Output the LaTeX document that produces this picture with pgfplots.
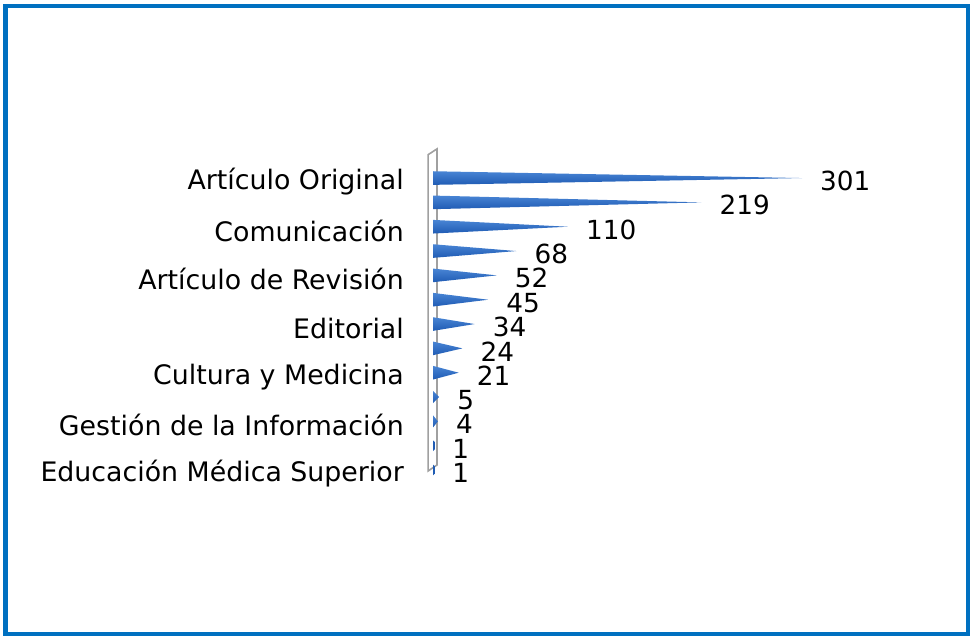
\documentclass[border=0pt]{standalone}
\usepackage{pgfplots}
\pgfplotsset{compat=1.18}
\usepackage{fontspec}
\setmainfont{DejaVu Sans}
\definecolor{frameblue}{RGB}{0,112,192}
\definecolor{conetop}{RGB}{72,132,212}
\definecolor{conebot}{RGB}{32,92,180}
\definecolor{wallgray}{RGB}{160,160,160}
\begin{document}
\begin{tikzpicture}[x=1bp,y=1bp]
\useasboundingbox (0,0) rectangle (973,639);
\draw[frameblue, line width=4bp] (5.5,5) rectangle (967.5,633);
\begin{axis}[
  at={(433bp,156.8bp)}, anchor=south west,
  scale only axis, width=392.3bp, height=316.3bp,
  xmin=0, xmax=320, ymin=0.5, ymax=13.5, y dir=reverse,
  clip=false,
  axis line style={draw=none},
  major tick length=0pt,
  xtick=\empty,
  ytick={1,3,5,7,9,11,13},
  yticklabels={Artículo Original, Comunicación, Artículo de Revisión, Editorial, Cultura y Medicina, Gestión de la Información, Educación Médica Superior},
  y tick label style={font=\fontsize{26.8bp}{30bp}\selectfont, anchor=east, inner sep=0pt, xshift=-29bp, yshift=-4bp, text=black},
]
% 3D wall
\addplot[wallgray, line width=1.6bp, fill=white, no marks] coordinates {(-4,0.04) (3.3,-0.2) (3.3,12.79) (-4,13.04)} -- cycle;
% cones
\addplot[draw=none, top color=conetop, bottom color=conebot] coordinates {(0,0.72) (301,1) (0,1.28)} -- cycle;
\addplot[draw=none, top color=conetop, bottom color=conebot] coordinates {(0,1.72) (219,2) (0,2.28)} -- cycle;
\addplot[draw=none, top color=conetop, bottom color=conebot] coordinates {(0,2.72) (110,3) (0,3.28)} -- cycle;
\addplot[draw=none, top color=conetop, bottom color=conebot] coordinates {(0,3.72) (68,4) (0,4.28)} -- cycle;
\addplot[draw=none, top color=conetop, bottom color=conebot] coordinates {(0,4.72) (52,5) (0,5.28)} -- cycle;
\addplot[draw=none, top color=conetop, bottom color=conebot] coordinates {(0,5.72) (45,6) (0,6.28)} -- cycle;
\addplot[draw=none, top color=conetop, bottom color=conebot] coordinates {(0,6.72) (34,7) (0,7.28)} -- cycle;
\addplot[draw=none, top color=conetop, bottom color=conebot] coordinates {(0,7.72) (24,8) (0,8.28)} -- cycle;
\addplot[draw=none, top color=conetop, bottom color=conebot] coordinates {(0,8.72) (21,9) (0,9.28)} -- cycle;
\addplot[draw=none, top color=conetop, bottom color=conebot] coordinates {(0,9.75) (5,10) (0,10.25)} -- cycle;
\addplot[draw=none, top color=conetop, bottom color=conebot] coordinates {(0,10.75) (4,11) (0,11.25)} -- cycle;
\addplot[draw=none, fill=conebot] coordinates {(0,11.78) (1.5,11.85) (1.5,12.15) (0,12.22)} -- cycle;
\addplot[draw=none, fill=conebot] coordinates {(0,12.78) (1.5,12.85) (1.5,13.15) (0,13.22)} -- cycle;
% data labels
\addplot[only marks, mark=*, mark size=0pt, mark options={draw=none, fill=none, opacity=0},
  point meta=explicit,
  nodes near coords,
  nodes near coords style={anchor=west, inner sep=0pt, xshift=18bp, yshift=-3bp, font=\fontsize{26.3bp}{30bp}\selectfont, text=black, opacity=1, /pgf/number format/assume math mode=true},
] table[meta index=2] {
x y v
301 1 301
219 2 219
110 3 110
68 4 68
52 5 52
45 6 45
34 7 34
24 8 24
21 9 21
5 10 5
4 11 4
1 12 1
1 13 1
};
\end{axis}
\end{tikzpicture}
\end{document}
